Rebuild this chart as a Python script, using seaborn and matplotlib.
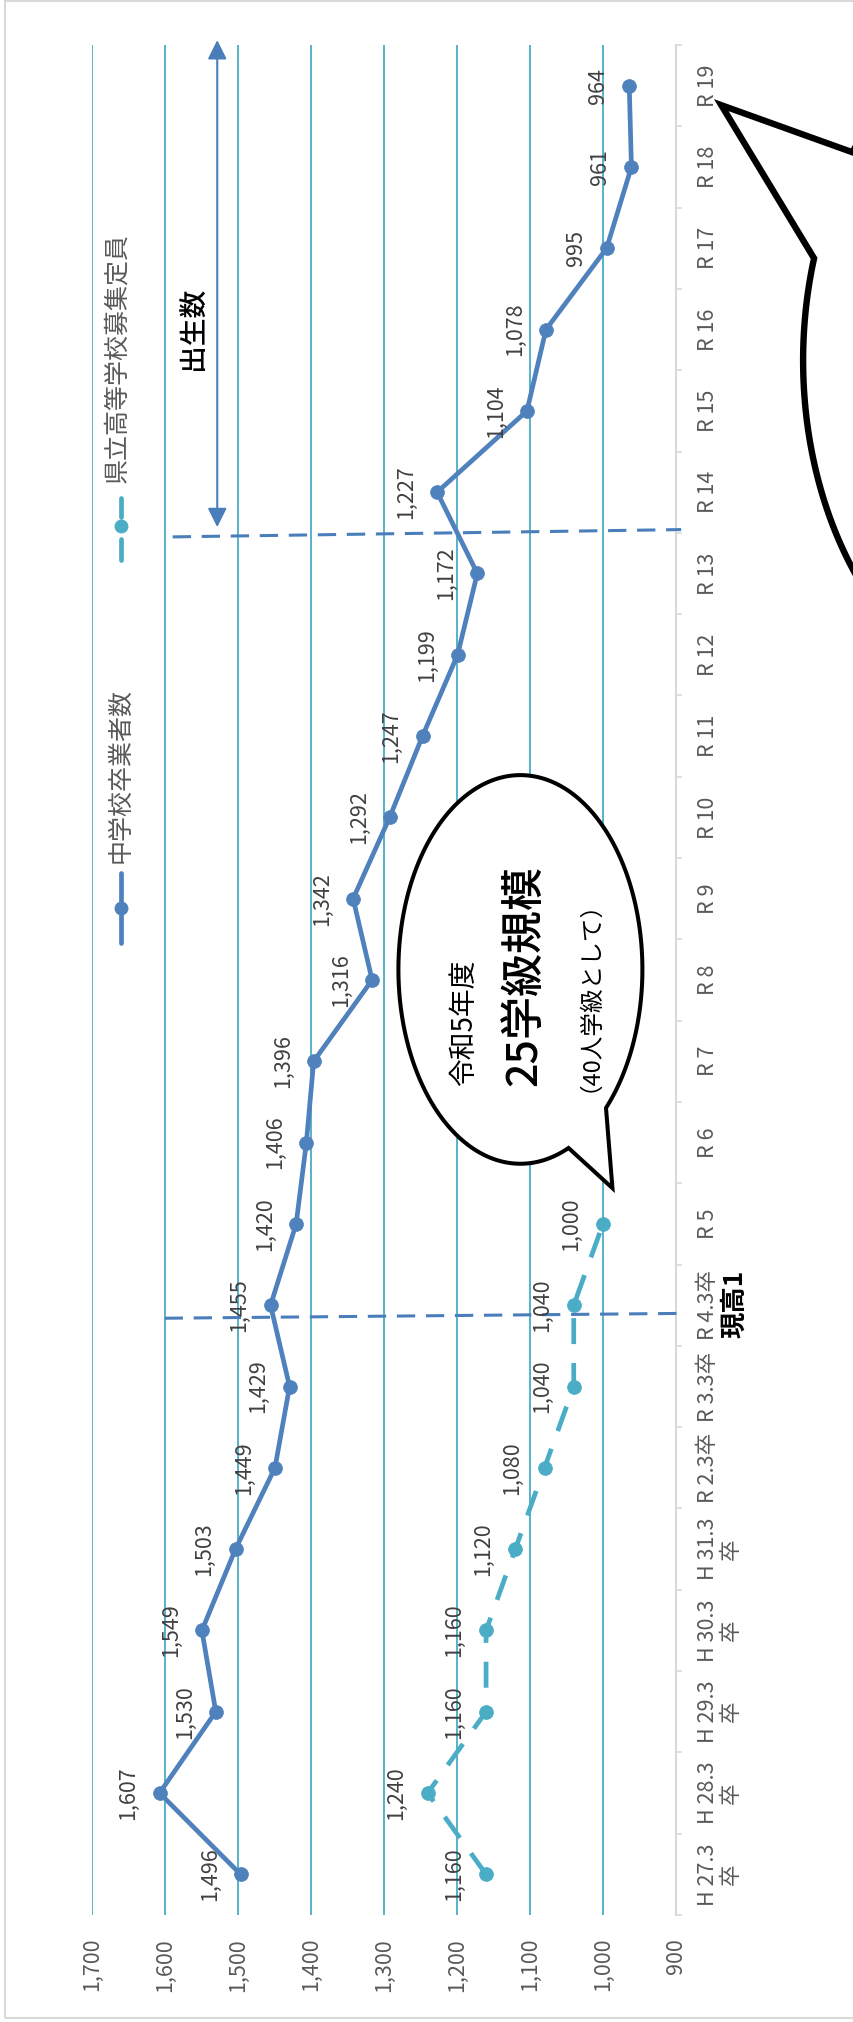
import numpy as np
import pandas as pd
import matplotlib
matplotlib.use("Agg")
import matplotlib.pyplot as plt
import seaborn as sns
from matplotlib.path import Path
from matplotlib.patches import PathPatch, Rectangle
from matplotlib.lines import Line2D
import matplotlib.transforms as mtransforms

# ---------------- data ----------------
categories = ["H 27.3\n卒", "H 28.3\n卒", "H 29.3\n卒", "H 30.3\n卒", "H 31.3\n卒",
              "R 2.3卒", "R 3.3卒", "R 4.3卒", "R 5", "R 6", "R 7", "R 8", "R 9",
              "R 10", "R 11", "R 12", "R 13", "R 14", "R 15", "R 16", "R 17", "R 18", "R 19"]
graduates = [1496, 1607, 1530, 1549, 1503, 1449, 1429, 1455, 1420, 1406, 1396, 1316,
             1342, 1292, 1247, 1199, 1172, 1227, 1104, 1078, 995, 961, 964]
capacity = [1160, 1240, 1160, 1160, 1120, 1080, 1040, 1040, 1000]
value_ticks = [900, 1000, 1100, 1200, 1300, 1400, 1500, 1600, 1700]
series_names = ["中学校卒業者数", "県立高等学校募集定員"]
bubble_lines = ["令和5年度", "25学級規模", "（40人学級として）"]
birth_label = "出生数"
current_label = "現高1"

# ---------------- style ----------------
sns.set_style("white")
plt.rcParams["font.family"] = ["Noto Sans CJK JP", "DejaVu Sans"]

C1 = "#4f81bd"
C2 = "#4bacc6"
GRID = "#4bacc6"
REF = "#4a7ebb"
TICK = "#595959"
LBL = "#404040"

W, H = 854, 2022
fig = plt.figure(figsize=(W / 100, H / 100), dpi=100)
fig.patch.set_facecolor("white")
ax = fig.add_axes([91.6 / W, 1 - 1915 / H, (676 - 91.6) / W, (1915 - 45) / H])

idx = np.arange(len(categories))
df1 = pd.DataFrame({"value": graduates, "pos": idx})
df2 = pd.DataFrame({"value": capacity, "pos": idx[:len(capacity)]})

sns.lineplot(data=df1, x="value", y="pos", orient="y", estimator=None, sort=False,
             ax=ax, color=C1, lw=3.4, marker="o", markersize=10,
             markeredgecolor=C1, markeredgewidth=0.5, zorder=4)
sns.lineplot(data=df2, x="value", y="pos", orient="y", estimator=None, sort=False,
             ax=ax, color=C2, lw=3.4, linestyle=(0, (5.5, 4)), marker="o",
             markersize=10, markeredgecolor=C2, markeredgewidth=0.5, zorder=4)

# data labels
for i, v in enumerate(graduates):
    ax.annotate(f"{v:,}", xy=(v, i), xytext=(-31, 0), textcoords="offset pixels",
                rotation=90, ha="center", va="center", fontsize=15.5, color=LBL, zorder=5)
for i, v in enumerate(capacity):
    ax.annotate(f"{v:,}", xy=(v, i), xytext=(-32, 0), textcoords="offset pixels",
                rotation=90, ha="center", va="center", fontsize=15.5, color=LBL, zorder=5)

# axes
ax.set_xlim(1700, 900)
ax.set_ylim(-0.5, len(categories) - 0.5)
ax.set_xticks(value_ticks)
ax.set_xticklabels([f"{v:,}" for v in value_ticks], rotation=90)
ax.tick_params(axis="x", length=0, pad=16.5, labelsize=15.5, labelcolor=TICK)
ax.yaxis.tick_right()
ax.set_yticks(idx)
ax.set_yticklabels(categories, rotation=90, va="center", ha="left")
for lab in ax.get_yticklabels():
    lab.set_multialignment("center")
    lab.set_linespacing(1.05)
ax.set_yticks(np.arange(-0.5, len(categories), 1.0), minor=True)
ax.tick_params(axis="y", which="major", length=0, pad=15, labelsize=15.5, labelcolor=TICK)
ax.tick_params(axis="y", which="minor", length=4, width=1.2, color="#d9d9d9", right=True, left=False)
ax.set_xlabel("")
ax.set_ylabel("")
for s in ["left", "top", "bottom"]:
    ax.spines[s].set_visible(False)
ax.spines["right"].set_color("#d9d9d9")
ax.spines["right"].set_linewidth(1.5)
ax.grid(axis="x", color=GRID, lw=1.3)
ax.grid(axis="y", visible=False)
ax.set_axisbelow(True)
if ax.get_legend() is not None:
    ax.get_legend().remove()

# reference dashed lines
ax.plot([1600, 885], [6.84, 6.90], ls=(0, (6, 3.5)), color=REF, lw=2.2, clip_on=False, zorder=3)
ax.plot([1589, 893], [16.45, 16.54], ls=(0, (6, 3.5)), color=REF, lw=2.2, clip_on=False, zorder=3)

# birth arrow
ax.annotate("", xy=(1528, 22.56), xytext=(1528, 16.57), annotation_clip=False,
            arrowprops=dict(arrowstyle="<|-|>,head_length=0.8,head_width=0.4", color=REF,
                            lw=1.5, mutation_scale=14.4, shrinkA=0, shrinkB=0, clip_on=False))
ax.text(1561, 19.02, birth_label, rotation=90, ha="center", va="center", fontsize=20,
        fontweight="medium", color="black")

# legend (manual, rotated)
ax.add_line(Line2D([1660, 1660, 1660], [11.46, 11.89, 12.32], color=C1, lw=3.4, marker="o",
                   markersize=10, markevery=[1], markeredgewidth=0, zorder=4))
ax.text(1661, 12.44, series_names[0], rotation=90, ha="center", va="bottom", fontsize=18, color=TICK)
ax.plot([1660, 1660, np.nan, 1660, 1660], [16.16, 16.43, np.nan, 16.69, 16.93], color=C2, lw=3.4,
        solid_capstyle="round", zorder=4)
ax.plot([1660], [16.59], "o", color=C2, markersize=10, markeredgewidth=0, zorder=4)
ax.text(1665, 17.11, series_names[1], rotation=90, ha="center", va="bottom", fontsize=18, color=TICK)

# "現高1"
trans = mtransforms.blended_transform_factory(ax.transAxes, ax.transData)
ax.text(1.101, 7.02, current_label, transform=trans, rotation=90, ha="center", va="center",
        fontsize=19, fontweight="bold", color="black", clip_on=False)


def bubble(cx, cy, a, b, p1, p2, tip, lw):
    t1 = np.arctan2((p1[1] - cy) / b, (p1[0] - cx) / a)
    t2 = np.arctan2((p2[1] - cy) / b, (p2[0] - cx) / a)
    d = (t2 - t1 + np.pi) % (2 * np.pi) - np.pi
    if d > 0:
        ts = np.linspace(t2, t1 + 2 * np.pi, 300)
    else:
        ts = np.linspace(t2, t1 - 2 * np.pi, 300)
    xs = cx + a * np.cos(ts)
    ys = cy + b * np.sin(ts)
    verts = list(zip(xs, ys)) + [tip, (xs[0], ys[0])]
    codes = [Path.MOVETO] + [Path.LINETO] * (len(verts) - 2) + [Path.CLOSEPOLY]
    patch = PathPatch(Path(verts, codes), fc="white", ec="black", lw=lw, clip_on=False,
                      zorder=6, joinstyle="miter")
    ax.add_patch(patch)


bubble(1113, 11.13, 167, 2.39, (994, 9.40), (1047, 8.93), (987, 8.44), 2.9)
bubble(384, 18.62, 342, 4.29, (668, 21.27), (712, 19.88), (838, 21.76), 4.6)

ax.text(1190, 9.70, bubble_lines[0], rotation=90, ha="center", va="bottom", fontsize=20,
        color="black", zorder=7)
ax.text(1108, 9.70, bubble_lines[1], rotation=90, ha="center", va="bottom", fontsize=31,
        fontweight="medium", color="black", zorder=7)
ax.text(1035, 9.62, bubble_lines[2], rotation=90, ha="center", va="bottom", fontsize=17,
        color="black", zorder=7)

# outer frame
fig.add_artist(Rectangle((5 / W, 1 - 2018 / H), 1.2, (2017) / H, transform=fig.transFigure,
                         fill=False, ec="#d9d9d9", lw=1.5))

fig.savefig("out.png", dpi=100)
